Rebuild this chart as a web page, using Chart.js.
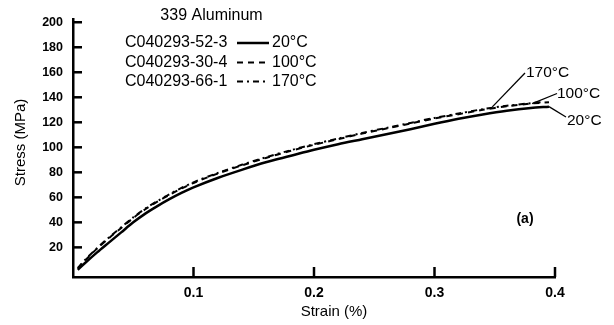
<!DOCTYPE html>
<html>
<head>
<meta charset="utf-8">
<script src="https://cdn.jsdelivr.net/npm/chart.js@4.4.1/dist/chart.umd.min.js"></script>
<style>
  html, body { margin: 0; padding: 0; background: #fff; }
  #wrap { width: 614px; height: 325px; position: relative; }
</style>
</head>
<body>
<div id="wrap"><canvas id="c" width="614" height="325"></canvas></div>
<script>
// Stress–strain curves for 339 aluminum at three test temperatures
const strainTicks = [0.1, 0.2, 0.3, 0.4];
const stressTicks = [20, 40, 60, 80, 100, 120, 140, 160, 180, 200];

const strain20 = [0.004, 0.01, 0.02, 0.03, 0.04, 0.05, 0.06, 0.07, 0.08, 0.09, 0.10, 0.12, 0.14, 0.16, 0.18, 0.20, 0.22, 0.24, 0.26, 0.28, 0.30, 0.32, 0.34, 0.36, 0.38, 0.395];
const stress20 = [2, 7.5, 16, 24, 32, 40, 47, 53, 58.5, 63.5, 68, 75.5, 82, 88, 93, 98, 102.5, 106.5, 110.5, 114.5, 118.8, 122.8, 126.3, 129.3, 131.5, 132.5];

const strain100 = [0.004, 0.01, 0.02, 0.03, 0.04, 0.05, 0.06, 0.07, 0.08, 0.09, 0.10, 0.12, 0.14, 0.16, 0.18, 0.20, 0.22, 0.24, 0.26, 0.28, 0.30, 0.32, 0.34, 0.36, 0.38, 0.395];
const stress100 = [3, 9.5, 19, 27.5, 35.5, 43.5, 50.5, 56.5, 62, 67, 71.5, 79, 85.5, 91.5, 97, 102, 106.5, 111, 115, 119, 123, 126.5, 130, 132.8, 135, 136];

const strain170 = [0.004, 0.01, 0.02, 0.03, 0.04, 0.05, 0.06, 0.07, 0.08, 0.09, 0.10, 0.12, 0.14, 0.16, 0.18, 0.20, 0.22, 0.24, 0.26, 0.28, 0.30, 0.32, 0.34, 0.36, 0.38, 0.39];
const stress170 = [3.5, 10, 19.5, 28, 36, 44, 51, 57, 62.5, 67.5, 72, 79.5, 86, 92, 97.5, 102.5, 107, 111.5, 115.5, 119.5, 123.5, 127, 130.5, 133.2, 135.3, 136.3];

const specimens = ['C040293-52-3', 'C040293-30-4', 'C040293-66-1'];
const temps = ['20°C', '100°C', '170°C'];

const pts = (xs, ys) => xs.map((x, i) => ({ x: x, y: ys[i] }));

const FONT = '"Liberation Sans", Arial, Helvetica, sans-serif';

const decorPlugin = {
  id: 'decor',
  afterDraw(chart) {
    const ctx = chart.ctx;
    const xs = chart.scales.x, ys = chart.scales.y;
    const a = chart.chartArea;
    ctx.save();
    ctx.strokeStyle = '#000';
    ctx.fillStyle = '#000';
    ctx.lineCap = 'butt';

    // inward tick marks
    ctx.lineWidth = 2.5;
    stressTicks.forEach(v => {
      const y = ys.getPixelForValue(v);
      ctx.beginPath(); ctx.moveTo(a.left, y); ctx.lineTo(a.left + 9, y); ctx.stroke();
    });
    strainTicks.forEach(v => {
      const x = xs.getPixelForValue(v);
      ctx.beginPath(); ctx.moveTo(x, a.bottom); ctx.lineTo(x, a.bottom - 10); ctx.stroke();
    });

    // axis titles
    ctx.font = '15px ' + FONT;
    ctx.textAlign = 'center'; ctx.textBaseline = 'middle';
    ctx.fillText('Strain (%)', 334, 312);
    ctx.save();
    ctx.translate(21, 142.5);
    ctx.rotate(-Math.PI / 2);
    ctx.fillText('Stress (MPa)', 0, 0);
    ctx.restore();

    // heading
    ctx.font = '16px ' + FONT;
    ctx.fillText('339 Aluminum', 211.5, 16);

    // key: specimen id, line sample, temperature
    const rowsY = [43, 62.5, 81.5];
    chart.data.datasets.forEach((ds, i) => {
      const y = rowsY[i];
      ctx.textAlign = 'left';
      ctx.font = '16px ' + FONT;
      ctx.fillText(specimens[i], 125, y);
      ctx.fillText(temps[i], 272, y);
      ctx.beginPath();
      ctx.lineWidth = ds.borderWidth;
      ctx.setLineDash(ds.borderDash || []);
      ctx.moveTo(237, y); ctx.lineTo(269, y);
      ctx.stroke();
      ctx.setLineDash([]);
    });

    // curve labels with leader lines
    const leaders = [
      { t: temps[2], sx: 0.348, sy: 132.3, lx: 525, ly: 73, tx: 526, ty: 73 },
      { t: temps[1], sx: 0.381, sy: 135, lx: 557, ly: 93.5, tx: 557, ty: 93.5 },
      { t: temps[0], sx: 0.395, sy: 132.5, lx: 566, ly: 117, tx: 567, ty: 121 }
    ];
    ctx.font = '15.5px ' + FONT;
    ctx.lineWidth = 1.3;
    leaders.forEach(l => {
      const px = xs.getPixelForValue(l.sx), py = ys.getPixelForValue(l.sy);
      ctx.beginPath(); ctx.moveTo(px, py); ctx.lineTo(l.lx, l.ly); ctx.stroke();
      ctx.textAlign = 'left';
      ctx.fillText(l.t, l.tx, l.ty);
    });

    // panel tag
    ctx.font = 'bold 14px ' + FONT;
    ctx.textAlign = 'center';
    ctx.fillText('(a)', 525, 219);
    ctx.restore();
  }
};

new Chart(document.getElementById('c'), {
  type: 'scatter',
  data: {
    datasets: [
      { label: temps[0], data: pts(strain20, stress20), borderColor: '#000', borderWidth: 2.5, showLine: true, pointRadius: 0, tension: 0.3 },
      { label: temps[1], data: pts(strain100, stress100), borderColor: '#000', borderWidth: 2, borderDash: [6, 5], showLine: true, pointRadius: 0, tension: 0.3 },
      { label: temps[2], data: pts(strain170, stress170), borderColor: '#000', borderWidth: 2, borderDash: [6, 4, 2, 4], showLine: true, pointRadius: 0, tension: 0.3 }
    ]
  },
  options: {
    responsive: false,
    animation: false,
    events: [],
    layout: { padding: { top: 19, right: 59, left: 0, bottom: 0 } },
    plugins: { legend: { display: false }, tooltip: { enabled: false }, title: { display: false } },
    scales: {
      x: {
        type: 'linear', min: 0, max: 0.4,
        afterBuildTicks: s => { s.ticks = strainTicks.map(v => ({ value: v })); },
        afterFit: s => { s.height = 48; },
        grid: { display: false, drawTicks: false },
        border: { display: true, color: '#000', width: 2.5 },
        ticks: { color: '#000', padding: 8, font: { family: FONT, size: 14, weight: 'bold' }, callback: v => v.toFixed(1) }
      },
      y: {
        type: 'linear', min: -3.7, max: 202.6,
        afterBuildTicks: s => { s.ticks = stressTicks.map(v => ({ value: v })); },
        afterFit: s => { s.width = 73; },
        grid: { display: false, drawTicks: false },
        border: { display: true, color: '#000', width: 2.5 },
        ticks: { color: '#000', padding: 10, font: { family: FONT, size: 12.5, weight: 'bold' }, callback: v => String(v) }
      }
    }
  },
  plugins: [decorPlugin]
});
</script>
</body>
</html>
